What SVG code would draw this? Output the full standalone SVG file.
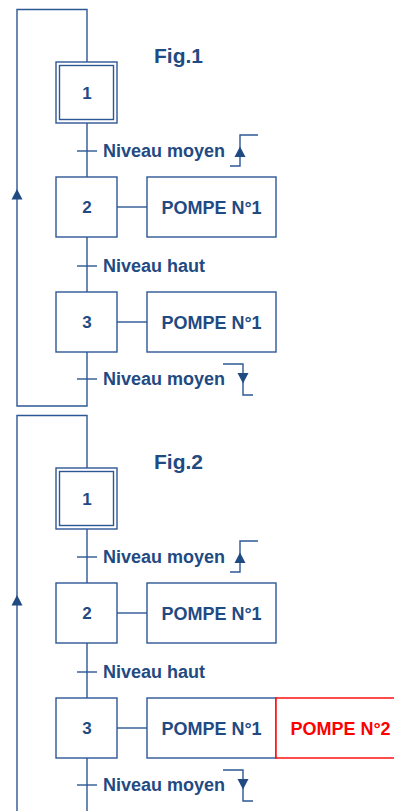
<svg xmlns="http://www.w3.org/2000/svg" width="394" height="811" viewBox="0 0 394 811">
<style>
.ln{fill:none;stroke:#2D5794;stroke-width:1.4}
.bx{fill:#fff;stroke:#2D5794;stroke-width:1.4}
.rbx{fill:#fff;stroke:#FF0000;stroke-width:1.4}
.ar{fill:#1F4A82;stroke:none}
.t{font-family:"Liberation Sans",Arial,sans-serif;font-weight:bold;fill:#1F4A82}
.lab{font-size:18px}
.num{font-size:17px;text-anchor:middle}
.act{font-size:18px;text-anchor:middle}
.fig{font-size:21px}
.red{fill:#FF0000}
</style>
<rect width="394" height="811" fill="#fff"/>

<!-- ===== Fig.1 ===== -->
<g id="connectors-fig1">
<path class="ln" d="M87,62 V9.5 H17 V406 H87 V352"/>
<path class="ar" d="M17,189 L11.5,199.5 L22.5,199.5 Z"/>
<line class="ln" x1="87" y1="123" x2="87" y2="177"/>
<line class="ln" x1="87" y1="237" x2="87" y2="292"/>
<line class="ln" x1="77" y1="151" x2="97" y2="151"/>
<line class="ln" x1="77" y1="266" x2="97" y2="266"/>
<line class="ln" x1="77" y1="379" x2="97" y2="379"/>
<line class="ln" x1="117" y1="207" x2="147" y2="207"/>
<line class="ln" x1="117" y1="322" x2="147" y2="322"/>
</g>
<text class="t fig" x="154" y="63">Fig.1</text>
<g id="f1-step1">
<rect class="bx" x="56" y="62" width="61" height="61"/>
<rect class="bx" x="59.5" y="65.5" width="54" height="54"/>
<text class="t num" x="87" y="99">1</text>
</g>
<g id="f1-t1">
<text class="t lab" x="103" y="157">Niveau moyen</text>
<path class="ln" d="M258,135 H240 V166 H230"/>
<path class="ar" d="M240,146.5 L234.5,157 L245.5,157 Z"/>
</g>
<g id="f1-step2">
<rect class="bx" x="56" y="177" width="61" height="60"/>
<text class="t num" x="87" y="213">2</text>
</g>
<g id="f1-a2">
<rect class="bx" x="147" y="177" width="129" height="60"/>
<text class="t act" x="211.5" y="213.5">POMPE N°1</text>
</g>
<g id="f1-t2">
<text class="t lab" x="103" y="272">Niveau haut</text>
</g>
<g id="f1-step3">
<rect class="bx" x="56" y="292" width="61" height="60"/>
<text class="t num" x="87" y="328">3</text>
</g>
<g id="f1-a3">
<rect class="bx" x="147" y="292" width="129" height="60"/>
<text class="t act" x="211.5" y="328.5">POMPE N°1</text>
</g>
<g id="f1-t3">
<text class="t lab" x="103" y="385">Niveau moyen</text>
<path class="ln" d="M223,364 H243 V395 H253"/>
<path class="ar" d="M243,383.5 L237.5,373 L248.5,373 Z"/>
</g>

<!-- ===== Fig.2 ===== -->
<g id="connectors-fig2">
<path class="ln" d="M87,468 V415.5 H17 V811"/>
<path class="ar" d="M17,595 L11.5,605.5 L22.5,605.5 Z"/>
<line class="ln" x1="87" y1="529" x2="87" y2="583"/>
<line class="ln" x1="87" y1="643" x2="87" y2="698"/>
<line class="ln" x1="87" y1="758" x2="87" y2="811"/>
<line class="ln" x1="77" y1="557" x2="97" y2="557"/>
<line class="ln" x1="77" y1="672" x2="97" y2="672"/>
<line class="ln" x1="77" y1="785" x2="97" y2="785"/>
<line class="ln" x1="117" y1="613" x2="147" y2="613"/>
<line class="ln" x1="117" y1="728" x2="147" y2="728"/>
</g>
<text class="t fig" x="154" y="469">Fig.2</text>
<g id="f2-step1">
<rect class="bx" x="56" y="468" width="61" height="61"/>
<rect class="bx" x="59.5" y="471.5" width="54" height="54"/>
<text class="t num" x="87" y="505">1</text>
</g>
<g id="f2-t1">
<text class="t lab" x="103" y="563">Niveau moyen</text>
<path class="ln" d="M258,541 H240 V572 H230"/>
<path class="ar" d="M240,552.5 L234.5,563 L245.5,563 Z"/>
</g>
<g id="f2-step2">
<rect class="bx" x="56" y="583" width="61" height="60"/>
<text class="t num" x="87" y="619">2</text>
</g>
<g id="f2-a2">
<rect class="bx" x="147" y="583" width="129" height="60"/>
<text class="t act" x="211.5" y="619.5">POMPE N°1</text>
</g>
<g id="f2-t2">
<text class="t lab" x="103" y="678">Niveau haut</text>
</g>
<g id="f2-step3">
<rect class="bx" x="56" y="698" width="61" height="60"/>
<text class="t num" x="87" y="734">3</text>
</g>
<g id="f2-a3">
<rect class="bx" x="147" y="698" width="129" height="60"/>
<text class="t act" x="211.5" y="734.5">POMPE N°1</text>
</g>
<g id="f2-a3b">
<rect class="rbx" x="276" y="698" width="129" height="60"/>
<text class="t act red" x="340.5" y="734.5">POMPE N°2</text>
</g>
<g id="f2-t3">
<text class="t lab" x="103" y="791">Niveau moyen</text>
<path class="ln" d="M223,770 H243 V801 H253"/>
<path class="ar" d="M243,789.5 L237.5,779 L248.5,779 Z"/>
</g>
</svg>
